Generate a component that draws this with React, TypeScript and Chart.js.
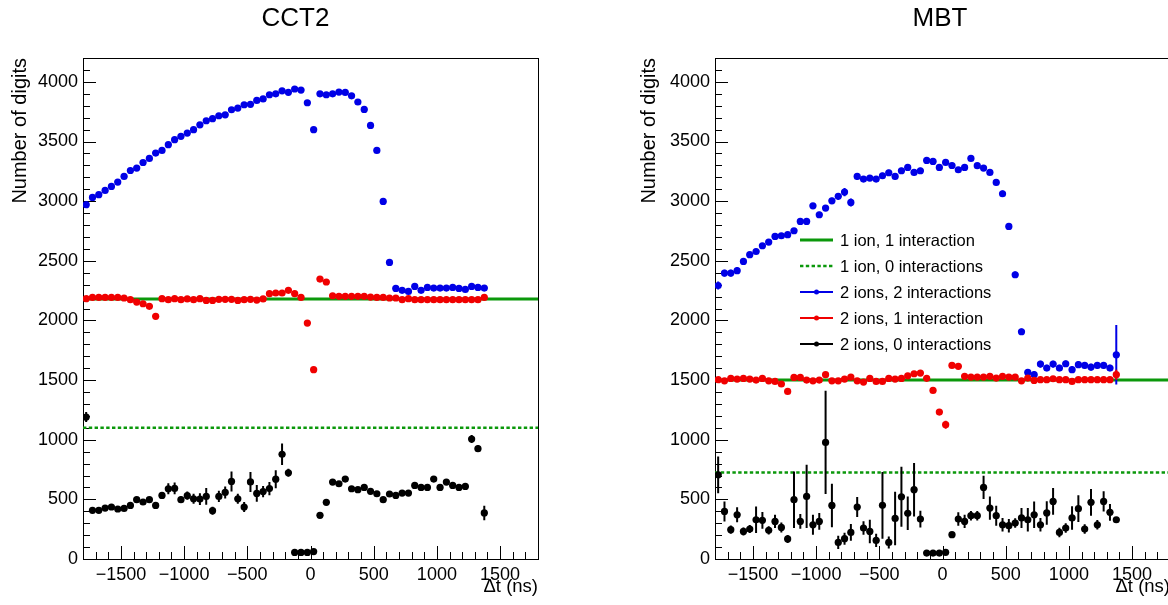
import React, { useEffect, useRef } from "react";
import { Chart, registerables } from "chart.js";

Chart.register(...registerables);

// ---------------- data ----------------
const DT_NS = [
  -1775, -1725, -1675, -1625, -1575, -1525, -1475, -1425, -1375, -1325,
  -1275, -1225, -1175, -1125, -1075, -1025, -975, -925, -875, -825,
  -775, -725, -675, -625, -575, -525, -475, -425, -375, -325,
  -275, -225, -175, -125, -75, -25, 25, 75, 125, 175,
  225, 275, 325, 375, 425, 475, 525, 575, 625, 675,
  725, 775, 825, 875, 925, 975, 1025, 1075, 1125, 1175,
  1225, 1275, 1325, 1375,
];

const SERIES_NAMES = [
  "1 ion, 1 interaction",
  "1 ion, 0 interactions",
  "2 ions, 2 interactions",
  "2 ions, 1 interaction",
  "2 ions, 0 interactions",
];

// CCT2
const CCT2_ONE_ION_ONE_INT = 2180;
const CCT2_ONE_ION_ZERO_INT = 1100;
const CCT2_TWO_TWO = [
  2970, 3031, 3054, 3090, 3123, 3160, 3207, 3257, 3277, 3324,
  3358, 3403, 3425, 3473, 3515, 3543, 3571, 3599, 3640, 3674,
  3691, 3716, 3724, 3766, 3780, 3808, 3812, 3844, 3857, 3892,
  3900, 3925, 3912, 3940, 3931, 3825, 3599, 3900, 3892, 3900,
  3914, 3911, 3883, 3831, 3769, 3635, 3425, 2998, 2486, 2268,
  2252, 2243, 2285, 2252, 2277, 2271, 2271, 2271, 2277, 2268,
  2260, 2285, 2277, 2271,
];
const CCT2_TWO_TWO_ERR = [
  12, 12, 12, 12, 12, 12, 12, 12, 12, 12,
  12, 12, 12, 12, 12, 12, 12, 12, 12, 12,
  12, 12, 12, 12, 12, 12, 12, 12, 12, 12,
  12, 12, 12, 12, 12, 12, 12, 12, 12, 12,
  12, 12, 12, 12, 12, 12, 12, 12, 12, 12,
  12, 12, 12, 12, 12, 12, 12, 12, 12, 12,
  12, 12, 12, 24,
];
const CCT2_TWO_ONE = [
  2182, 2193, 2193, 2193, 2193, 2193, 2188, 2174, 2154, 2140,
  2118, 2034, 2182, 2174, 2182, 2174, 2180, 2174, 2182, 2168,
  2168, 2177, 2177, 2177, 2168, 2174, 2177, 2171, 2180, 2224,
  2230, 2230, 2252, 2224, 2193, 1978, 1587, 2347, 2322, 2207,
  2202, 2202, 2202, 2202, 2202, 2196, 2193, 2193, 2188, 2188,
  2174, 2182, 2174, 2174, 2174, 2174, 2174, 2174, 2174, 2174,
  2174, 2174, 2174, 2193,
];
const CCT2_TWO_ONE_ERR = [
  10, 10, 10, 10, 10, 10, 10, 10, 10, 10,
  10, 10, 10, 10, 10, 10, 10, 10, 10, 10,
  10, 10, 10, 10, 10, 10, 10, 10, 10, 10,
  10, 10, 10, 10, 10, 10, 10, 10, 10, 10,
  10, 10, 10, 10, 10, 10, 10, 10, 10, 10,
  10, 10, 10, 10, 10, 10, 10, 10, 10, 10,
  10, 10, 10, 16,
];
const CCT2_TWO_ZERO = [
  1190, 408, 408, 427, 436, 419, 424, 449, 497, 478,
  497, 449, 533, 589, 592, 497, 531, 505, 502, 525,
  405, 525, 558, 650, 505, 436, 646, 550, 565, 590,
  669, 878, 723, 55, 55, 55, 62, 366, 475, 645,
  631, 670, 589, 581, 600, 567, 547, 497, 545, 533,
  553, 553, 617, 600, 600, 670, 600, 645, 617, 600,
  608, 1006, 925, 386,
];
const CCT2_TWO_ZERO_ERR = [
  42, 14, 14, 14, 14, 14, 14, 14, 14, 14,
  14, 14, 28, 47, 50, 28, 34, 42, 50, 70,
  34, 47, 50, 84, 42, 42, 84, 70, 47, 56,
  75, 90, 34, 10, 10, 10, 10, 14, 20, 20,
  20, 20, 20, 20, 20, 20, 20, 20, 22, 22,
  22, 22, 25, 25, 25, 25, 25, 25, 25, 25,
  25, 34, 28, 61,
];

// MBT
const MBT_ONE_ION_ONE_INT = 1500;
const MBT_ONE_ION_ZERO_INT = 725;
const MBT_TWO_TWO = [
  2293, 2397, 2397, 2417, 2495, 2551, 2578, 2626, 2657, 2704,
  2710, 2719, 2752, 2830, 2830, 2961, 2886, 2942, 3003, 3040,
  3076, 2989, 3207, 3185, 3193, 3185, 3213, 3238, 3207, 3255,
  3283, 3241, 3255, 3341, 3333, 3283, 3325, 3299, 3263, 3283,
  3358, 3297, 3277, 3241, 3157, 3062, 2788, 2383, 1905, 1564,
  1545, 1634, 1601, 1634, 1601, 1637, 1587, 1629, 1623, 1609,
  1623, 1623, 1601, 1712,
];
const MBT_TWO_TWO_ERR = [
  34, 28, 28, 28, 25, 22, 22, 22, 22, 22,
  22, 22, 22, 22, 22, 22, 25, 25, 25, 28,
  34, 34, 28, 25, 25, 25, 25, 25, 25, 25,
  25, 25, 25, 22, 22, 22, 22, 22, 22, 22,
  22, 22, 22, 22, 25, 28, 28, 28, 28, 28,
  28, 28, 28, 28, 28, 28, 28, 28, 28, 28,
  28, 28, 28, 250,
];
const MBT_TWO_ONE = [
  1503, 1494, 1514, 1508, 1514, 1508, 1500, 1514, 1494, 1489,
  1467, 1405, 1522, 1522, 1500, 1494, 1500, 1545, 1494, 1494,
  1508, 1525, 1494, 1483, 1514, 1489, 1489, 1514, 1508, 1514,
  1536, 1553, 1559, 1515, 1413, 1232, 1126, 1623, 1615, 1531,
  1525, 1525, 1525, 1531, 1517, 1531, 1525, 1525, 1494, 1517,
  1497, 1503, 1503, 1511, 1503, 1503, 1489, 1503, 1503, 1503,
  1503, 1503, 1503, 1545,
];
const MBT_TWO_ONE_ERR = [
  17, 17, 17, 17, 17, 17, 17, 17, 17, 17,
  17, 17, 17, 17, 17, 17, 17, 17, 17, 17,
  17, 17, 17, 17, 17, 17, 17, 17, 17, 17,
  17, 17, 17, 17, 17, 20, 34, 17, 17, 17,
  17, 17, 17, 17, 17, 17, 17, 17, 17, 17,
  17, 17, 17, 17, 17, 17, 17, 17, 17, 17,
  17, 17, 17, 42,
];
const MBT_TWO_ZERO = [
  706, 399, 246, 371, 231, 251, 329, 324, 240, 315,
  265, 168, 497, 315, 525, 287, 315, 977, 449, 139,
  170, 223, 436, 260, 231, 156, 450, 139, 340, 522,
  383, 581, 335, 50, 50, 50, 56, 204, 335, 315,
  363, 363, 600, 427, 363, 287, 279, 301, 344, 329,
  371, 287, 386, 483, 223, 260, 344, 422, 251, 475,
  287, 483, 391, 329,
];
const MBT_TWO_ZERO_ERR = [
  154, 84, 34, 62, 34, 34, 112, 70, 34, 56,
  42, 34, 237, 62, 265, 84, 70, 433, 182, 56,
  50, 70, 84, 56, 98, 56, 280, 50, 224, 252,
  140, 224, 70, 14, 14, 14, 14, 20, 56, 56,
  40, 40, 98, 98, 84, 56, 56, 40, 84, 98,
  112, 56, 98, 112, 40, 40, 98, 112, 40, 112,
  40, 84, 70, 20,
];

// axes
const X_RANGE = [-1800, 1800];
const Y_RANGE = [0, 4200];
const X_TICK_LABELS = [-1500, -1000, -500, 0, 500, 1000, 1500];
const Y_TICK_LABELS = [0, 500, 1000, 1500, 2000, 2500, 3000, 3500, 4000];
const X_TITLE = "Δt (ns)";
const Y_TITLE = "Number of digits";
const HALF_BIN = 25;

// ---------------- style ----------------
const FONT = '"Liberation Sans", Arial, Helvetica, sans-serif';
const GREEN = "#0b980b";
const BLUE = "#0000e6";
const RED = "#f00000";
const BLACK = "#000000";

const fmt = (v: number) => (v < 0 ? "\u2212" + Math.abs(v) : String(v));

const rootDecor = {
  id: "rootDecor",
  beforeDatasetsDraw(chart: any) {
    const { ctx, chartArea: a, scales } = chart;
    const x = scales.x;
    const y = scales.y;
    ctx.save();
    ctx.strokeStyle = "#000";
    ctx.lineWidth = 1;
    ctx.strokeRect(a.left + 0.5, a.top + 0.5, a.right - a.left, a.bottom - a.top);
    ctx.beginPath();
    for (let v = Y_RANGE[0]; v <= Y_RANGE[1]; v += 100) {
      const py = Math.round(y.getPixelForValue(v)) + 0.5;
      const len = v % 500 === 0 ? 13 : 7;
      ctx.moveTo(a.left, py);
      ctx.lineTo(a.left + len, py);
    }
    for (let v = X_RANGE[0]; v <= X_RANGE[1]; v += 100) {
      const px = Math.round(x.getPixelForValue(v)) + 0.5;
      const len = v % 500 === 0 ? 13 : 7;
      ctx.moveTo(px, a.bottom);
      ctx.lineTo(px, a.bottom - len);
    }
    ctx.stroke();
    ctx.restore();
  },
  beforeDatasetDraw(chart: any, args: any) {
    const ds = chart.data.datasets[args.index];
    if (!ds.errors) return;
    const { ctx, chartArea: a, scales } = chart;
    const x = scales.x;
    const y = scales.y;
    ctx.save();
    ctx.beginPath();
    ctx.rect(a.left, a.top, a.right - a.left, a.bottom - a.top);
    ctx.clip();
    ctx.strokeStyle = ds.backgroundColor;
    ctx.lineWidth = 2;
    ctx.beginPath();
    ds.data.forEach((p: any, i: number) => {
      const e = ds.errors[i];
      const px = x.getPixelForValue(p.x);
      ctx.moveTo(px, y.getPixelForValue(p.y - e));
      ctx.lineTo(px, y.getPixelForValue(p.y + e));
      const py = y.getPixelForValue(p.y);
      ctx.moveTo(x.getPixelForValue(p.x - HALF_BIN), py);
      ctx.lineTo(x.getPixelForValue(p.x + HALF_BIN), py);
    });
    ctx.stroke();
    ctx.restore();
  },
  afterDraw(chart: any, _args: any, opts: any) {
    const { ctx, chartArea: a } = chart;
    ctx.save();
    ctx.fillStyle = "#000";
    ctx.font = `26px ${FONT}`;
    ctx.textAlign = "center";
    ctx.textBaseline = "alphabetic";
    ctx.fillText(opts.title, opts.titleX, 26);
    if (opts.legend) {
      const x0 = a.left + 85;
      const x1 = x0 + 33;
      const y0 = a.top + 182;
      const dy = 26;
      const ds = chart.data.datasets;
      ctx.font = `16.5px ${FONT}`;
      ctx.textAlign = "left";
      SERIES_NAMES.forEach((name, i) => {
        const d = ds.find((q: any) => q.label === name);
        const yy = y0 + i * dy;
        const col = d.borderColor || d.backgroundColor;
        ctx.strokeStyle = d.errors ? d.backgroundColor : d.borderColor;
        ctx.lineWidth = d.errors ? 2 : d.borderWidth;
        ctx.setLineDash(d.borderDash || []);
        ctx.beginPath();
        ctx.moveTo(x0, yy);
        ctx.lineTo(x1, yy);
        ctx.stroke();
        ctx.setLineDash([]);
        if (d.errors) {
          ctx.fillStyle = d.backgroundColor;
          ctx.beginPath();
          ctx.arc((x0 + x1) / 2, yy, 2.5, 0, Math.PI * 2);
          ctx.fill();
        }
        ctx.fillStyle = "#000";
        ctx.fillText(name, x1 + 7, yy + 6);
        void col;
      });
    }
    ctx.restore();
  },
};

type PanelProps = {
  title: string;
  solid: number;
  dotted: number;
  blue: number[];
  blueErr: number[];
  red: number[];
  redErr: number[];
  black: number[];
  blackErr: number[];
  left: number;
  width: number;
  axisWidth: number;
  padRight: number;
  titleX: number;
  legend: boolean;
};

function Panel(p: PanelProps) {
  const ref = useRef<HTMLCanvasElement>(null);
  useEffect(() => {
    if (!ref.current) return;
    const pts = (vals: number[]) => DT_NS.map((x, i) => ({ x, y: vals[i] }));
    const flat = (lvl: number) => [
      { x: X_RANGE[0], y: lvl },
      { x: X_RANGE[1], y: lvl },
    ];
    const pointDs = (label: string, vals: number[], errs: number[], color: string, order: number) => ({
      label,
      data: pts(vals),
      errors: errs,
      showLine: false,
      backgroundColor: color,
      borderColor: color,
      borderWidth: 0,
      pointRadius: 3.6,
      pointStyle: "circle",
      order,
    });
    const chart = new Chart(ref.current, {
      type: "scatter",
      data: {
        datasets: [
          {
            label: SERIES_NAMES[0],
            data: flat(p.solid),
            showLine: true,
            borderColor: GREEN,
            borderWidth: 3,
            pointRadius: 0,
            order: 10,
          },
          {
            label: SERIES_NAMES[1],
            data: flat(p.dotted),
            showLine: true,
            borderColor: GREEN,
            borderWidth: 2.6,
            borderDash: [3.4, 2.4],
            pointRadius: 0,
            order: 10,
          },
          pointDs(SERIES_NAMES[2], p.blue, p.blueErr, BLUE, 3),
          pointDs(SERIES_NAMES[3], p.red, p.redErr, RED, 2),
          pointDs(SERIES_NAMES[4], p.black, p.blackErr, BLACK, 1),
        ] as any,
      },
      options: {
        responsive: false,
        animation: false,
        events: [],
        layout: { padding: { left: 0, top: 58, right: p.padRight, bottom: 0 } },
        plugins: {
          legend: { display: false },
          tooltip: { enabled: false },
          rootDecor: { title: p.title, titleX: p.titleX, legend: p.legend },
        } as any,
        scales: {
          x: {
            type: "linear",
            min: X_RANGE[0],
            max: X_RANGE[1],
            grid: { display: false, drawTicks: false },
            border: { display: false },
            afterBuildTicks: (s: any) => {
              s.ticks = X_TICK_LABELS.map((v) => ({ value: v }));
            },
            afterFit: (s: any) => {
              s.height = 46;
            },
            ticks: {
              color: "#000",
              font: { family: FONT, size: 18 },
              padding: 5,
              maxRotation: 0,
              autoSkip: false,
              callback: (v: any) => fmt(Number(v)),
            },
            title: {
              display: true,
              text: X_TITLE,
              align: "end",
              color: "#000",
              font: { family: FONT, size: 18.5 },
              padding: { top: 0, bottom: 7 },
            },
          },
          y: {
            type: "linear",
            min: Y_RANGE[0],
            max: Y_RANGE[1],
            grid: { display: false, drawTicks: false },
            border: { display: false },
            afterBuildTicks: (s: any) => {
              s.ticks = Y_TICK_LABELS.map((v) => ({ value: v }));
            },
            afterFit: (s: any) => {
              s.width = p.axisWidth;
            },
            ticks: {
              color: "#000",
              font: { family: FONT, size: 18 },
              padding: 5,
              autoSkip: false,
              callback: (v: any) => fmt(Number(v)),
            },
            title: {
              display: true,
              text: Y_TITLE,
              align: "end",
              color: "#000",
              font: { family: FONT, size: 20 },
              padding: { top: 8, bottom: 0 },
            },
          },
        } as any,
      },
      plugins: [rootDecor as any],
    });
    return () => chart.destroy();
  }, []);
  return (
    <canvas
      ref={ref}
      width={p.width}
      height={605}
      style={{ position: "absolute", left: p.left, top: 0, width: p.width, height: 605 }}
    />
  );
}

export default function App() {
  return (
    <div
      style={{
        position: "fixed",
        left: 0,
        top: 0,
        width: 1168,
        height: 605,
        overflow: "hidden",
        background: "#fff",
      }}
    >
      <Panel
        title="CCT2"
        solid={CCT2_ONE_ION_ONE_INT}
        dotted={CCT2_ONE_ION_ZERO_INT}
        blue={CCT2_TWO_TWO}
        blueErr={CCT2_TWO_TWO_ERR}
        red={CCT2_TWO_ONE}
        redErr={CCT2_TWO_ONE_ERR}
        black={CCT2_TWO_ZERO}
        blackErr={CCT2_TWO_ZERO_ERR}
        left={0}
        width={584}
        axisWidth={83}
        padRight={46}
        titleX={295.5}
        legend={false}
      />
      <Panel
        title="MBT"
        solid={MBT_ONE_ION_ONE_INT}
        dotted={MBT_ONE_ION_ZERO_INT}
        blue={MBT_TWO_TWO}
        blueErr={MBT_TWO_TWO_ERR}
        red={MBT_TWO_ONE}
        redErr={MBT_TWO_ONE_ERR}
        black={MBT_TWO_ZERO}
        blackErr={MBT_TWO_ZERO_ERR}
        left={629}
        width={600}
        axisWidth={86}
        padRight={59}
        titleX={311}
        legend={true}
      />
    </div>
  );
}
